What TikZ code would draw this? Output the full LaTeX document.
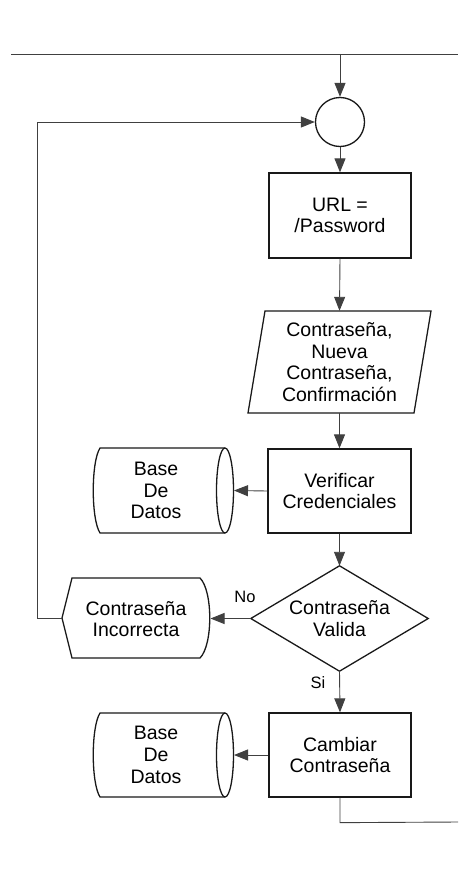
\documentclass[tikz,border=0pt]{standalone}
\usepackage{fontspec}
\setmainfont{Liberation Sans}
\usetikzlibrary{arrows.meta}
\begin{document}
\begin{tikzpicture}[x=1pt,y=-1pt,
  shp/.style={draw=black!90, line width=1.3pt},
  con/.style={draw=black!75, line width=0.9pt},
  arr/.style={con, -{Triangle[length=14pt,width=11pt]}},
  txt/.style={font=\fontsize{19.5}{21.7}\selectfont, align=center, inner sep=0pt},
  lbl/.style={font=\fontsize{16.5}{18}\selectfont, inner sep=0pt}]
\useasboundingbox (0,0) rectangle (458,875);

% nodes
\node[shp, circle, minimum size=49pt, inner sep=0pt] (start) at (340,122) {};
\node[shp, txt, rectangle, minimum width=142pt, minimum height=85pt] (url) at (340,215.5) {URL =\\/Password};
\node[txt, minimum width=183pt, minimum height=102pt] (inp) at (339.5,362) {Contraseña,\\Nueva\\Contraseña,\\Confirmación};
\draw[shp] (265,311) -- (431,311) -- (414,413) -- (248,413) -- cycle;
\node[shp, txt, rectangle, minimum width=143pt, minimum height=84pt] (ver) at (339.5,491) {Verificar\\Credenciales};

% database 1
\draw[shp] (225,448) -- (100,448) .. controls (91,462) and (91,519) .. (100,533) -- (225,533);
\draw[shp] (225,490.5) ellipse [x radius=8.5, y radius=42.5];
\node[txt] (db1) at (156,490.5) {Base\\De\\Datos};
\coordinate (db1e) at (234,490.5);

% decision
\node[txt, minimum width=177pt, minimum height=105pt] (dec) at (339.5,618.5) {Contraseña\\Valida};
\draw[shp] (dec.north) -- (dec.east) -- (dec.south) -- (dec.west) -- cycle;

% display
\draw[shp] (62,618) -- (72,578) -- (200,578) .. controls (213,591) and (213,645) .. (200,658) -- (72,658) -- cycle;
\node[txt] (inc) at (136,619) {Contraseña\\Incorrecta};
\coordinate (incE) at (210.5,618.5);
\coordinate (incW) at (62,618.5);

\node[lbl] (no) at (245,597) {No};
\node[lbl] (si) at (318,683) {Si};

\node[shp, txt, rectangle, minimum width=142pt, minimum height=84pt] (cam) at (340,755) {Cambiar\\Contraseña};

% database 2
\draw[shp] (225,713) -- (100,713) .. controls (91,727) and (91,783) .. (100,797) -- (225,797);
\draw[shp] (225,755) ellipse [x radius=8.5, y radius=42];
\node[txt] (db2) at (156,755) {Base\\De\\Datos};
\coordinate (db2e) at (234,755);

% connectors
\coordinate (tl) at (11,54);
\coordinate (tr) at (458,54);
\coordinate (tm) at (340,54);
\coordinate (br) at (458,822);
\draw[con] (tl) -- (tr);
\draw[arr] (tm) -- (start.north);
\draw[arr] (start.south) -- (url.north);
\draw[arr] (url.south) -- (inp.north);
\draw[arr] (inp.south) -- (ver.north);
\draw[arr] (ver.west) -- (db1e);
\draw[arr] (ver.south) -- (dec.north);
\draw[arr] (dec.west) -- (incE);
\draw[arr] (incW) -- ++(-25,0) |- (start.west);
\draw[arr] (dec.south) -- (cam.north);
\draw[arr] (cam.west) -- (db2e);
\draw[con] (cam.south) -- ++(0,25) -- (br);
\end{tikzpicture}
\end{document}
